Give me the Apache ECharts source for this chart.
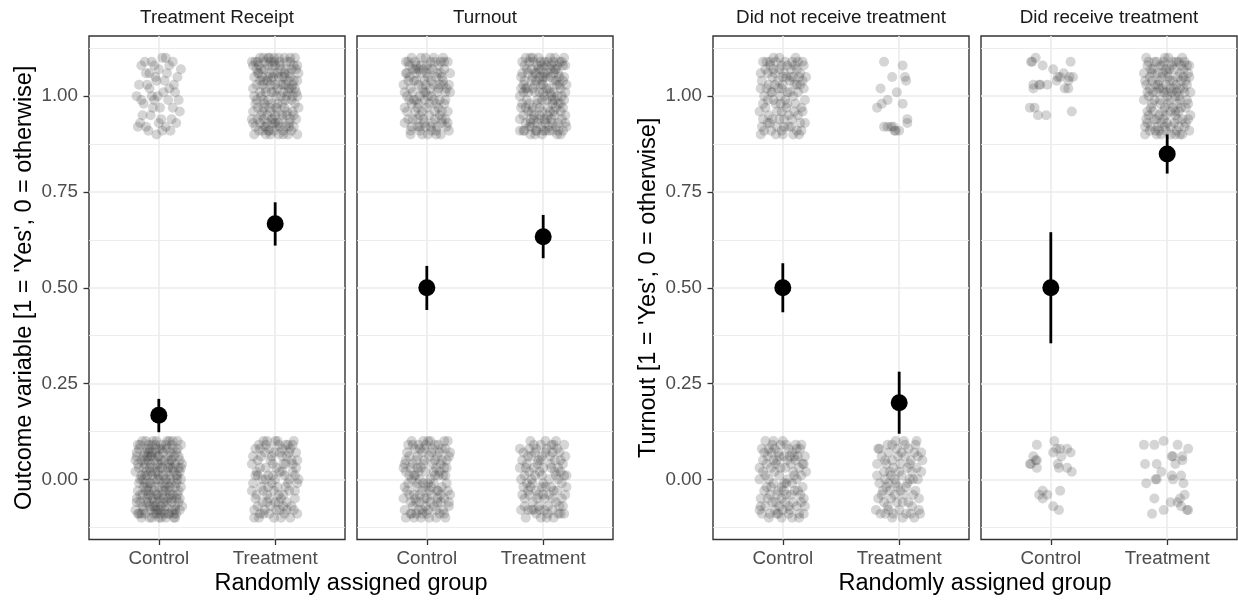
<!DOCTYPE html>
<html>
<head>
<meta charset="utf-8">
<script src="https://cdn.jsdelivr.net/npm/echarts@6/dist/echarts.min.js"></script>
<style>
html, body { margin: 0; padding: 0; background: #fff; }
#charts { width: 1238px; height: 607px; }
</style>
</head>
<body>
<div id="charts"></div>
<script>
var groups = ['Control', 'Treatment'];
var yTicks = [0, 0.25, 0.5, 0.75, 1];
var yMinor = [-0.125, 0.125, 0.375, 0.625, 0.875, 1.125];
var panelTitles = ['Treatment Receipt', 'Turnout', 'Did not receive treatment', 'Did receive treatment'];
var xTitle = 'Randomly assigned group';
var yTitleLeft = "Outcome variable [1 = 'Yes', 0 = otherwise]";
var yTitleRight = "Turnout [1 = 'Yes', 0 = otherwise]";

// group means with interval ends (Control, Treatment)
var receiptMean = [0.167, 0.667], receiptLo = [0.123, 0.61], receiptHi = [0.21, 0.723];
var turnoutMean = [0.5, 0.633], turnoutLo = [0.442, 0.577], turnoutHi = [0.557, 0.69];
var notRecMean = [0.5, 0.2], notRecLo = [0.436, 0.119], notRecHi = [0.564, 0.281];
var recMean = [0.5, 0.849], recLo = [0.355, 0.798], recHi = [0.645, 0.9];

// jittered raw points: pairs dx,dy in hundredths (dx of a group step, dy of outcome)
// rc = treatment receipt, to = turnout, nr = did not receive, rv = did receive
var rcCtrl1 = [-15,8,-6,9,3,10,9,8,-11,6,-3,5,12,9,-17,3,-8,2,5,4,14,1,-1,0,8,-1,-13,-2,18,-4,-5,-3,2,-6,-16,-7,11,-6,-9,-9,
-2,-10,6,-8,-12,9,0,7,16,5,-19,0,4,1,-7,-5,13,3,-4,8,10,-9,-14,-5,1,-3,7,6,-10,3,17,-1,-18,-8,3,-9,-6,0,9,2,
-2,4,15,-7,-15,-1,6,10,-11,-8,12,-3,0,-7,-8,6,19,7,-4,-1];
var rcCtrl0 = [-18,-9,-7,4,5,-2,16,8,-12,1,2,9,11,-6,-3,-8,19,0,-15,5,8,3,-9,-4,14,-10,-1,6,-19,7,6,-7,-5,0,17,-3,-11,10,3,-1,
-16,-6,10,5,-2,-9,13,2,-8,8,0,-5,18,-8,-13,3,7,10,-4,-2,15,-5,-10,6,4,1,-17,-1,9,-9,-6,9,20,4,-14,-7,1,3,12,-4,
-20,2,-3,7,6,-10,-9,-3,16,0,-1,-6,11,9,-12,5,5,-8,-7,-1,17,6,-15,-9,2,4,9,-2,-5,10,14,-7,-18,4,0,1,-10,-5,7,8,
-2,-4,12,3,-16,9,4,-6,-8,-10,19,-2,-11,2,10,7,-4,5,1,-9,-13,-2,15,1,-6,6,8,-5,-19,-6,3,8,13,-9,-1,2,-9,9,18,-5,
5,5,-14,0,11,-1,-3,-7,16,10,-7,-8,0,6,-17,8,9,-3,-10,1,14,4,-5,-5,2,-10,-12,7,7,2,-18,-3,19,9,-8,3,12,-8,-1,0,
-15,1,6,9,-4,-3,17,-6,-9,5,1,-8,10,0,-20,-8,4,7,-11,-6,13,6,-6,1,-16,-4,8,-9,-2,10,15,-1,-12,-9,3,-4,18,2,-7,6,
-3,2,11,5,-19,-5,6,-3,-10,8,0,-10,16,-4,-13,6,9,1,-5,-7,20,-7,-8,-1,2,5,-14,10,12,8,-4,-9,7,-6,-17,3,-1,4,14,-2,
-11,-3,4,-5,17,3,-6,7,9,10,-15,-10,1,0,-9,-6,13,-10,-2,8,18,5,-12,4,5,-9,-7,2,10,-4,-18,9,0,-2,15,7,-4,-6,-16,0,
3,3,-13,-8,14,-8,-1,-4,8,6,-10,-2,19,3,-6,-10,11,-5,-19,6,-8,-7,6,0,-3,9,16,1,-14,-4,2,-7,-9,7,12,10,-17,-9,7,-1,
1,8,-12,-1,9,4,-5,3,15,-9,-20,5,4,-3,-1,-8,10,3,-7,-4];
var rcTrt1 = [-17,9,-6,10,4,8,13,10,-11,5,0,3,18,7,-3,-2,9,-1,-15,-6,7,-9,-8,-8,16,-5,-1,6,-19,2,11,4,-4,9,2,-4,19,-10,-13,1,
5,0,-10,-3,14,2,-5,-9,20,6,-14,8,8,5,-2,-6,12,-7,-18,-10,-7,4,3,10,17,-2,-12,-5,10,9,-16,3,1,-8,-9,7,15,0,-3,1,
6,-5,-19,-7,12,6,-6,-1,-1,9,19,4,-11,-9,8,-3,-15,6,2,2,16,8,-4,-4,-13,10,9,-8,-8,2,14,-9,0,-7,-17,-2,5,7,-10,-6,
11,1,-2,5,-20,9,7,3,18,-6,-6,8,3,-10,-12,0,13,5,-9,-8,-15,-3,1,0,10,-4,-5,6,17,10,-18,5,6,-6,-1,-9,14,-1,-11,3,
4,9,-7,-5,20,-3,-14,-9,9,7,-3,4,15,3,-10,10,2,-2,-16,7,12,-8,-1,1,-19,-4,6,5,-8,-10,17,2,-12,7,0,-5,8,10,-5,-3,
19,0,-9,9,3,-7,-16,-1,11,-10,-4,3,14,7,-13,-7,7,1,-2,8,-6,-9,13,9,-18,0,1,-3,16,-8,-10,4,5,3,-15,9,10,-5,-3,-6,
8,6,-11,-4,-1,10,18,1,-7,-7,3,5,-20,-6,12,2,-4,-10,15,-4,-13,4,6,-2,-8,1,0,8,19,8,-17,-8,10,0,-5,10,4,-8,-10,-1,
16,4,-2,-7,-14,6,9,3,-6,5,13,-6,-19,8,2,6,-9,-2,7,-10];
var rcTrt0 = [-17,8,-8,9,2,10,11,9,18,7,-13,3,-4,5,7,4,15,2,-19,-1,-10,-3,0,0,9,-2,17,-5,-15,-7,-5,-9,4,-8,13,-10,-18,-10,19,-1,
-12,6,-1,7,6,8,14,5,-6,1,3,-4,10,-6,-16,-4,-9,-8,16,-8,1,3,-14,9,8,1,-3,-1,12,-3,-7,-6,5,-10,-20,4,19,5,-11,0,
15,9,-2,4,-17,-5,7,-7,-8,3,10,6,0,-6,-13,-9,4,2,17,-3,-5,8,12,0,-19,6,2,-2,-10,10,8,-9,-15,1,14,-7,-1,-10,6,6,
18,3,-7,-4,-12,-2,11,-1,3,9,-18,-8,9,4,-4,-7,16,10,-9,7,-16,2,5,-5,-2,1,13,8,-11,-6,0,10,20,0,-6,-2,7,-4,-14,-10,
10,-8,-3,6,-20,-3,15,4,-8,0,4,7,-13,8,19,-9,-5,-5,1,-8,12,7,-17,1,6,2,-10,-9,17,1,-1,-3,9,9,-15,5,3,-6,-7,10];
var toCtrl1 = [-16,9,-5,8,6,10,15,9,-11,4,1,5,11,3,-19,1,-2,-1,8,-2,18,-4,-8,-6,3,-8,-14,-9,13,-7,-4,2,20,6,-12,7,4,0,-17,-4,
9,6,-1,10,-9,-1,16,1,-6,-9,2,-5,12,-10,-15,5,7,-6,-3,7,-19,-7,14,4,-7,3,0,-3,10,8,-13,-2,5,7,19,-9,-10,9,-1,-8,
17,2,-4,-4,-18,6,8,-9,-9,6,3,2,13,5,-14,-10,0,8,-6,0,11,-5,-12,1,6,-1,-2,4,18,9,-16,-6,9,1,-8,-8,15,-2,1,-10,
-5,10,4,4,-20,3,12,6,-10,-4,16,-6,-3,-6,7,9,-15,8,2,-2,19,3,-7,7,-13,-8,10,-3,-1,1,14,10,-17,0,5,-7,-9,4,8,5,
-4,-10,17,-8,-11,-1,0,6,11,-1,-18,9,6,3,-6,-5,13,-4,-14,2,3,9,-8,-3,20,1,-2,-7,-16,4,9,-8,-5,6,15,7,-12,-6,1,0,
7,-4,-19,-3,12,9,-9,8,4,-9,-1,3,16,-1,-13,10,10,2,-6,-8,-3,1,13,-6,-10,7,2,7,18,-7,-15,-1,8,-10,-7,-2,14,3,-17,6];
var toCtrl0 = [-17,7,-7,9,3,10,13,8,19,6,-12,4,-2,5,8,3,16,1,-19,-2,-9,-2,1,-1,10,-3,-14,-6,-4,-8,6,-7,15,-9,-18,-10,20,-4,-11,1,
4,7,-1,2,12,4,-16,9,-6,-4,9,-6,-13,-9,2,-10,17,-1,-8,6,14,-8,-3,-1,-20,3,7,1,-10,8,18,10,0,-5,-15,-4,11,7,-5,-10,
5,4,-18,5,15,-5,-7,2,2,-3,-12,-7,10,9,-2,8,19,-7,-9,-9,-15,1,8,-8,-4,7,13,-2,-10,-5,1,10,17,5,-6,0,6,-1,-19,-8,
11,2,-1,-7,-13,10,4,-4,-8,3,16,-10,-17,-3,9,6,-3,4,14,1,-11,-10,3,0,20,7,-6,-6,7,5,-14,3,12,-6,-1,9,-20,-5,9,-3,
0,-9,-9,5,15,3,-4,-3,18,-3,-16,-1,5,8,-7,-8,11,-9,-12,9,2,6,16,8,-10,1,-2,-5,8,-10,-18,2,13,5,-5,3,4,-2,-14,-9,
19,-6,-8,-1,-3,10,10,1,-15,6,6,2,-11,-4,1,-8,15,10,-6,8,-19,4,12,-4,-1,-2,7,9,-9,-6,3,-6,17,3,-13,0,-4,-9,9,-5];
var toTrt1 = [-18,9,-9,10,1,9,10,10,17,8,-13,6,-4,7,6,5,14,3,-19,2,-7,1,3,2,12,0,-15,-3,-1,-4,8,-2,19,-5,-11,-7,5,-9,15,-10,
-20,-6,-6,-9,2,-7,11,-8,-16,8,-2,9,7,8,17,4,-10,4,0,3,13,6,-14,-1,-5,-2,9,1,18,-1,-17,-9,-8,-6,4,-5,13,-7,-1,-10,
16,9,-12,9,-3,5,6,7,-19,5,9,4,-7,3,1,0,11,-3,-15,2,19,1,-9,-3,-2,-8,8,-9,-17,-5,3,-6,15,-4,-11,-10,6,10,-4,10,
12,3,-14,7,-6,6,2,5,20,-8,-18,-2,10,-1,-1,-1,7,-6,-10,-8,-3,1,14,9,-16,4,5,2,-8,-5,17,-3,0,-9,-13,-4,9,6,-5,8,
4,-3,-20,0,11,7,-7,-10,16,0,-11,10,1,-6,-2,3,13,-9,-15,-7,8,-1,-5,-7,-18,6,18,5,-9,2,3,8,-12,-2,10,-5,0,5,15,2,
-6,4,6,-4,-16,-9,13,-2,-3,-3,19,8,-10,7,2,-9,-19,-3,9,9,16,-6,-1,8,-13,1,7,0,-8,9,12,-10,-17,3,4,6,-4,-6,20,3,
-11,-6,5,-8,-2,7,14,5,-15,10,8,-7,0,1,-7,6,17,-9,-20,-9,10,7,-12,-8,3,-1,-6,-9,18,10,-9,5,6,1,-14,2,11,4,-3,-5,
1,6,15,-2,-17,1,9,-4,-5,-1,-10,-4,4,9,12,8,-1,4,19,-7];
var toTrt0 = [-17,7,-8,9,2,10,12,8,18,9,-14,4,-4,5,6,4,15,2,-19,0,-11,-2,0,-1,9,-3,-16,-7,-6,-9,4,-7,13,-9,19,-4,-2,-10,8,-8,
-12,8,-1,6,10,5,-18,-4,-7,1,5,0,16,-1,-13,-8,1,-5,11,-6,-15,-10,-9,-6,20,1,-3,2,14,7,-20,3,7,-2,-5,-5,17,-7,-10,6,
3,8,-16,1,11,1,-6,-3,18,-9,-12,-4,0,3,8,7,-3,-8,13,3,-8,-8,5,-4,-19,-8,15,5,-2,9,9,-10,-11,10,2,-2,-15,3,19,6,
-5,4,12,-3,-17,-2,7,9,-9,-1,16,-5,-1,1,-13,6,4,-9,10,2,-7,7,1,-8,14,-7,-18,5,6,6,-4,-4,17,4,-10,-8,9,9,-14,-1,
0,-4,-12,2,11,10,-6,8,20,-2,-16,-5,3,-10,-8,3,13,0,-2,5,15,-9,-20,8,7,3,-10,0,2,7,-4,-7,18,1,-13,-3,8,-5,-1,-2];
var nrCtrl1 = [-17,9,-8,10,2,9,11,10,18,8,-13,6,-3,7,7,5,15,3,-19,2,-9,1,0,3,9,0,-15,-3,-5,-4,4,-2,13,-5,19,-1,-11,-7,-1,-9,
7,-8,-17,-6,16,-9,-7,6,3,5,12,7,-12,3,-2,0,6,1,-19,-10,17,4,-6,-2,-14,9,10,-4,-1,8,14,-10,-10,-9,1,-6,-16,0,8,9,
-4,2,19,-7,-9,5,5,-8,-13,-1,15,6,0,-10,-6,9,10,3,-18,4,3,-3,-11,8,13,1,-3,-6,8,-6,-20,-4,17,9,-8,-1,1,6,12,-9,
-15,7,6,4,-5,-8,18,2,-10,1,4,8,-1,-4,11,-2,-18,-8,14,5,-7,3,9,-10,-12,-5,2,-1,16,-3,-3,10,7,7,-16,-9,20,5,-9,-6,
0,5,12,3,-19,6,-6,-10,5,-5,-14,2,15,-7,10,8,-2,-2,-11,9,4,1,-8,7,17,-4,-4,4,9,5,-17,-2,1,-8,13,9,-13,-7,-1,2];
var nrCtrl0 = [-18,8,-8,10,3,9,12,8,19,6,-14,4,-3,6,7,4,16,1,-20,0,-10,-2,1,-1,10,-3,-15,-7,-5,-9,5,-7,14,-9,18,-5,-12,-10,-1,-5,
8,-10,-17,5,-7,2,2,3,11,5,-13,-5,17,-2,-4,-3,5,8,-19,-7,14,3,-2,9,-10,7,9,-6,-15,1,0,-8,16,9,-6,-6,4,0,-11,-9,
12,-7,-20,3,6,6,-8,-1,18,-9,-3,1,-16,-3,10,1,1,6,-12,8,15,-4,-6,4,3,-4,-18,-9,8,-1,-9,9,13,6,-1,-10,20,2,-14,-2,
5,-9,-4,7,-11,-4,11,9,-17,2,2,-6,17,4,-7,-8,9,2,-2,3,-13,6,7,-4,-19,-5,14,-10,-5,5,0,10,19,-7,-9,-6,4,5,-15,10,
10,6,-1,-2,-12,0,16,-6,6,-8,-7,8,12,0,-20,-8,1,-3,-4,-9,18,4,-10,3,3,-1,-16,7,8,7,-5,-4,13,-3,-8,5,15,8,-3,-7];
var nrTrt1 = [-13,9,3,8,-6,5,6,4,-16,2,-2,1,-10,-1,-15,-2,3,-2,-19,-3,-13,-8,-7,-8,-10,-8,-4,-9,-3,-9,7,-7,7,-6,-5,-8,0,-9,5,5];
var nrTrt0 = [-17,8,-6,9,4,10,14,9,19,7,-12,5,-1,6,9,4,-19,1,-8,2,2,1,12,0,-14,-3,-4,-4,6,-2,17,-5,-10,-7,0,-8,10,-9,-16,-9,
-3,-1,15,3,-9,7,5,6,-18,-5,8,-6,-6,-10,18,-9,-13,2,1,4,13,7,-5,3,-11,-2,7,-1,-20,-8,3,-6,16,0,-7,-5,11,-7,-2,8,
-15,6,5,9,-8,-3,19,2,-1,-2,10,5,-12,-9,3,-10,14,-3,-17,-1,8,8,-4,0,-19,4,12,-4,0,2,-10,9,17,-8,-6,5,4,-4,-13,-6,
15,10,-9,-8,2,7,-15,-4,9,0,-2,-6,20,5,-7,1,6,-9,-11,4,11,2,-18,8,1,-3,-5,-9,16,6,-12,0,7,3,-3,10,13,-10,-9,-1];
var rvCtrl1 = [-13,10,-17,9,-7,8,2,7,17,9,11,6,6,5,19,5,-9,3,-3,3,-15,2,12,2,15,2,-18,-3,-14,-3,-11,-5,-4,-5,18,-4,-16,9,5,4,
8,5,-15,3,-10,3,15,4,16,5];
var rvCtrl0 = [-12,9,3,10,2,7,8,8,17,7,9,6,-15,6,-12,5,-18,4,-12,3,7,3,14,3,18,2,8,-3,-7,-3,-10,-4,-3,-4,2,-7,7,-8,-7,-5,
6,4,-17,4,14,8,5,8,-13,5];
var rvTrt1 = [-18,10,-9,9,1,10,10,9,17,8,-14,7,-4,8,6,7,14,5,-19,4,-8,3,2,4,11,2,-16,0,-6,-1,7,0,18,-2,-12,-4,-1,-5,9,-6,
16,-7,-19,-8,-7,-9,3,-8,13,-10,-11,9,0,6,8,3,19,5,-15,2,-3,1,12,-3,-17,-4,5,-3,-9,-6,15,1,-1,-9,-13,6,8,9,20,-5,
-5,5,4,1,-20,-1,10,-8,-10,3,15,9,-2,-3,7,-10,-14,-8,2,7,17,3,-7,-5,-16,9,11,6,-4,2,13,-6,-18,-6,5,4,-11,-1,0,-7,
9,-2,-6,8,19,-9,-13,-2,2,-1,-2,10,14,2,-17,1,7,-5,-8,-8,12,8,-15,5,3,-4,-9,1,18,6,-1,3,-19,-10,9,5,-5,-10,16,-3,
-12,7,6,-7,-3,-6,11,-1,-17,8,0,0,13,10,-7,2,20,1,-10,-9,4,8,-14,-3,8,-9,-1,7,15,-8,-8,6,1,-2,-18,3,10,0,-4,-4,
17,-1,-11,-6,5,9,-6,-2,-16,-5,12,4,3,2,-2,-8,19,8,-13,4,7,-4,-20,6,14,7,-9,-10,1,5,-5,-7,10,-4,-15,-9,18,-6,-1,1,
-7,4,6,2,-12,1,16,4,3,-10,-4,6,11,-10,-17,-7,8,1,-3,9];
var rvTrt0 = [-20,9,-11,9,-3,10,9,9,18,8,4,6,5,6,13,5,7,4,-19,4,-5,2,-10,0,-18,-1,-9,0,5,0,12,1,14,-1,-11,-5,3,-6,11,-5,
12,-7,17,-8,18,-8,-13,-9,-3,-8,9,-6,4,1,-9,4,13,6,15,-4];

var FONT = '"Liberation Sans", Arial, Helvetica, sans-serif';

function jitter(offs, group, outcome) {
  var pts = [];
  for (var i = 0; i < offs.length; i += 2) {
    pts.push([group + offs[i] / 100, outcome + offs[i + 1] / 100]);
  }
  return pts;
}

var panels = [
  { left: 89, showY: true, yName: yTitleLeft, mean: receiptMean, lo: receiptLo, hi: receiptHi,
    pts: [].concat(jitter(rcCtrl0, 1, 0), jitter(rcCtrl1, 1, 1), jitter(rcTrt0, 2, 0), jitter(rcTrt1, 2, 1)) },
  { left: 357, showY: false, yName: '', mean: turnoutMean, lo: turnoutLo, hi: turnoutHi,
    pts: [].concat(jitter(toCtrl0, 1, 0), jitter(toCtrl1, 1, 1), jitter(toTrt0, 2, 0), jitter(toTrt1, 2, 1)) },
  { left: 713, showY: true, yName: yTitleRight, mean: notRecMean, lo: notRecLo, hi: notRecHi,
    pts: [].concat(jitter(nrCtrl0, 1, 0), jitter(nrCtrl1, 1, 1), jitter(nrTrt0, 2, 0), jitter(nrTrt1, 2, 1)) },
  { left: 981, showY: false, yName: '', mean: recMean, lo: recLo, hi: recHi,
    pts: [].concat(jitter(rvCtrl0, 1, 0), jitter(rvCtrl1, 1, 1), jitter(rvTrt0, 2, 0), jitter(rvTrt1, 2, 1)) }
];

var PW = 256, TOP = 36, PH = 503.5;
var grid = [], xAxis = [], yAxis = [], series = [], graphic = [];

panels.forEach(function (p, i) {
  grid.push({ left: p.left, top: TOP, width: PW, height: PH, show: true,
    borderColor: '#333333', borderWidth: 1.4, backgroundColor: 'transparent' });

  xAxis.push({
    type: 'value', gridIndex: i, min: 0.4, max: 2.6, position: 'bottom',
    axisLine: { show: false, onZero: false },
    axisTick: { show: true, customValues: [1, 2], length: 5.5, lineStyle: { color: '#333333', width: 1.3 } },
    axisLabel: { show: true, customValues: [1, 2], margin: 10, color: '#4D4D4D', fontSize: 18.8, fontFamily: FONT,
      formatter: function (v) { return groups[Math.round(v) - 1]; } },
    splitLine: { show: true, lineStyle: { color: '#EBEBEB', width: 1.6 } }
  });

  yAxis.push({
    type: 'value', gridIndex: i, min: -0.157, max: 1.157,
    name: p.yName, nameLocation: 'middle', nameRotate: 90, nameGap: 52,
    nameTextStyle: { color: '#000', fontSize: 23.5, fontFamily: FONT },
    axisLine: { show: false, onZero: false },
    axisTick: { show: p.showY, customValues: yTicks, length: 5.5, lineStyle: { color: '#333333', width: 1.3 } },
    axisLabel: { show: p.showY, customValues: yTicks, margin: 11, color: '#4D4D4D', fontSize: 18.8, fontFamily: FONT,
      formatter: function (v) { return v.toFixed(2); } },
    splitLine: { show: true, lineStyle: { color: '#EBEBEB', width: 1.6 } }
  });
  // minor grid lines
  yAxis.push({
    type: 'value', gridIndex: i, min: -0.157, max: 1.157,
    axisLine: { show: false, onZero: false },
    axisTick: { show: false, customValues: yMinor },
    axisLabel: { show: false, customValues: yMinor },
    splitLine: { show: true, lineStyle: { color: '#EBEBEB', width: 0.9 } }
  });

  series.push({
    type: 'scatter', xAxisIndex: i, yAxisIndex: 2 * i, data: p.pts,
    symbolSize: 10, silent: true, large: false, progressive: 0, z: 2,
    itemStyle: { color: 'rgb(62,62,62)', opacity: 0.22 }
  });
  series.push({
    type: 'custom', xAxisIndex: i, yAxisIndex: 2 * i, z: 3, silent: true,
    data: [[1, p.lo[0], p.hi[0]], [2, p.lo[1], p.hi[1]]],
    encode: { x: 0, y: [1, 2] },
    renderItem: function (params, api) {
      var a = api.coord([api.value(0), api.value(1)]);
      var b = api.coord([api.value(0), api.value(2)]);
      return { type: 'line', shape: { x1: a[0], y1: a[1], x2: b[0], y2: b[1] },
        style: { stroke: '#000', lineWidth: 2.8 } };
    }
  });
  series.push({
    type: 'scatter', xAxisIndex: i, yAxisIndex: 2 * i, z: 4, silent: true,
    data: [[1, p.mean[0]], [2, p.mean[1]]],
    symbolSize: 17, itemStyle: { color: '#000', opacity: 1 }
  });

  graphic.push({
    type: 'text', x: p.left + PW / 2, y: 17.5, silent: true,
    style: { text: panelTitles[i], fill: '#1A1A1A', fontSize: 18.8, fontFamily: FONT,
      align: 'center', verticalAlign: 'middle', textAlign: 'center', textVerticalAlign: 'middle' }
  });
});

[[89, 613], [713, 1237]].forEach(function (r) {
  graphic.push({
    type: 'text', x: (r[0] + r[1]) / 2, y: 583.6, silent: true,
    style: { text: xTitle, fill: '#000', fontSize: 23.5, fontFamily: FONT,
      align: 'center', verticalAlign: 'middle', textAlign: 'center', textVerticalAlign: 'middle' }
  });
});

var chartDom = document.getElementById('charts');
var myChart = echarts.init(chartDom, null, { renderer: 'canvas' });
var option = {
  animation: false,
  backgroundColor: '#fff',
  grid: grid,
  xAxis: xAxis,
  yAxis: yAxis,
  series: series,
  graphic: graphic
};
myChart.setOption(option);
</script>
</body>
</html>
